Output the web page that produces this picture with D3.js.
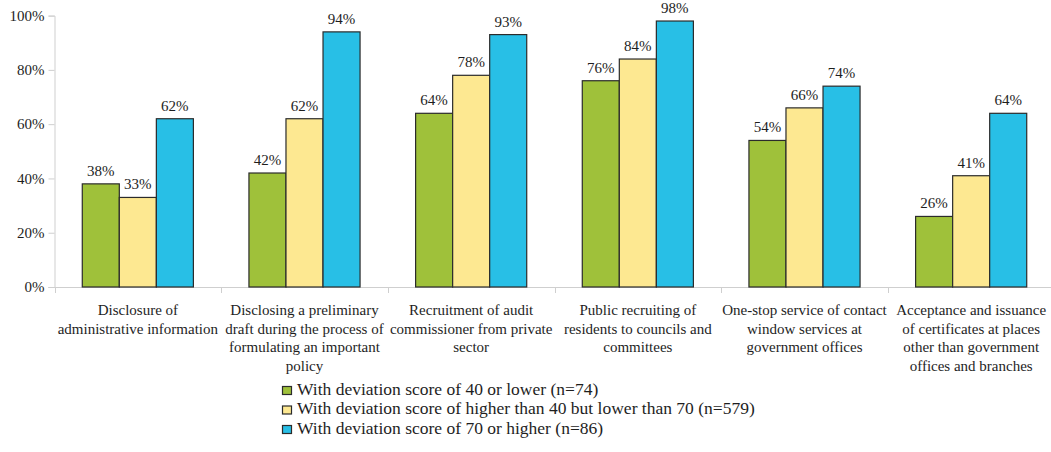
<!DOCTYPE html>
<html>
<head>
<meta charset="utf-8">
<script src="https://cdn.jsdelivr.net/npm/d3@7"></script>
<style>
  html, body { margin: 0; padding: 0; background: #fff; }
  svg { display: block; }
</style>
</head>
<body>
<svg id="chart" width="1051" height="452"></svg>
<script>
// Categories (x-axis), each label split into its lines
const categories = [
  ["Disclosure of", "administrative information"],
  ["Disclosing a preliminary", "draft during the process of", "formulating an important", "policy"],
  ["Recruitment of audit", "commissioner from private", "sector"],
  ["Public recruiting of", "residents to councils and", "committees"],
  ["One-stop service of contact", "window services at", "government offices"],
  ["Acceptance and issuance", "of certificates at places", "other than government", "offices and branches"]
];

// Series names (legend)
const seriesNames = [
  "With deviation score of 40 or lower (n=74)",
  "With deviation score of higher than 40 but lower than 70 (n=579)",
  "With deviation score of 70 or higher (n=86)"
];

// Percent values for each series, one per category
const lowScore  = [38, 42, 64, 76, 54, 26];
const midScore  = [33, 62, 78, 84, 66, 41];
const highScore = [62, 94, 93, 98, 74, 64];

const yTicks = [0, 20, 40, 60, 80, 100];

const colors = ["#9fc13a", "#fde891", "#28bfe6"];

const seriesValues = [lowScore, midScore, highScore];

const FONT = "'Liberation Serif', 'Times New Roman', Times, 'DejaVu Serif', serif";
const TEXT_COLOR = "#1e1e1e";

const svg = d3.select("#chart")
  .attr("font-family", FONT);

const plotLeft = 54.5, plotRight = 1054.5, plotTop = 15.6, plotBottom = 287;

const x0 = d3.scaleBand()
  .domain(d3.range(categories.length))
  .range([plotLeft, plotRight])
  .padding(0);

const x1 = d3.scaleBand()
  .domain(d3.range(seriesNames.length))
  .range([0, x0.bandwidth()])
  .paddingInner(0)
  .paddingOuter(0.75);

const y = d3.scaleLinear().domain([0, 100]).range([plotBottom, plotTop]);

// Y axis
const yAxis = d3.axisLeft(y)
  .tickValues(yTicks)
  .tickFormat(d => d + "%")
  .tickSize(6)
  .tickPadding(4);

const gy = svg.append("g")
  .attr("transform", `translate(${plotLeft},0)`)
  .call(yAxis)
  .attr("font-family", FONT)
  .attr("font-size", 15);
gy.select(".domain").attr("stroke", "#cfcfcf");
gy.selectAll(".tick line").attr("stroke", "#cfcfcf");
gy.selectAll(".tick text").attr("fill", TEXT_COLOR);

// X axis baseline with category dividers
svg.append("line")
  .attr("x1", plotLeft - 6).attr("x2", plotRight)
  .attr("y1", plotBottom + 0.5).attr("y2", plotBottom + 0.5)
  .attr("stroke", "#cfcfcf");

svg.append("g").selectAll("line")
  .data(d3.range(categories.length + 1))
  .join("line")
  .attr("x1", i => Math.round(plotLeft + i * x0.step()) + 0.5)
  .attr("x2", i => Math.round(plotLeft + i * x0.step()) + 0.5)
  .attr("y1", plotBottom)
  .attr("y2", plotBottom + 6)
  .attr("stroke", "#cfcfcf");

// Bars
const groups = svg.append("g").selectAll("g")
  .data(categories.map((c, i) => i))
  .join("g")
  .attr("transform", i => `translate(${x0(i)},0)`);

groups.selectAll("rect")
  .data(i => seriesValues.map((vals, s) => ({ s, v: vals[i] })))
  .join("rect")
  .attr("x", d => x1(d.s))
  .attr("y", d => y(d.v))
  .attr("width", x1.bandwidth())
  .attr("height", d => y(0) - y(d.v))
  .attr("fill", d => colors[d.s])
  .attr("stroke", "#2b2b2b")
  .attr("stroke-width", 1.2);

// Value labels
groups.selectAll("text.val")
  .data(i => seriesValues.map((vals, s) => ({ s, v: vals[i] })))
  .join("text")
  .attr("class", "val")
  .attr("x", d => x1(d.s) + x1.bandwidth() / 2)
  .attr("y", d => y(d.v) - 8)
  .attr("text-anchor", "middle")
  .attr("font-size", 15)
  .attr("fill", TEXT_COLOR)
  .text(d => d.v + "%");

// Category labels
const catLabels = svg.append("g").selectAll("text")
  .data(categories)
  .join("text")
  .attr("text-anchor", "middle")
  .attr("font-size", 15)
  .attr("fill", TEXT_COLOR)
  .attr("transform", (d, i) => `translate(${x0(i) + x0.bandwidth() / 2},315)`);

catLabels.selectAll("tspan")
  .data(d => d)
  .join("tspan")
  .attr("x", 0)
  .attr("y", (d, j) => j * 18.5)
  .text(d => d);

// Legend
const legend = svg.append("g").attr("transform", "translate(282,386)");
const items = legend.selectAll("g")
  .data(seriesNames)
  .join("g")
  .attr("transform", (d, i) => `translate(0,${i * 19.5})`);

items.append("rect")
  .attr("x", 0.5).attr("y", 0.5)
  .attr("width", 9).attr("height", 8)
  .attr("fill", (d, i) => colors[i])
  .attr("stroke", "#2b2b2b")
  .attr("stroke-width", 1.2);

items.append("text")
  .attr("x", 15)
  .attr("y", 8.5)
  .attr("font-size", 17.5)
  .attr("fill", TEXT_COLOR)
  .text(d => d);
</script>
</body>
</html>
